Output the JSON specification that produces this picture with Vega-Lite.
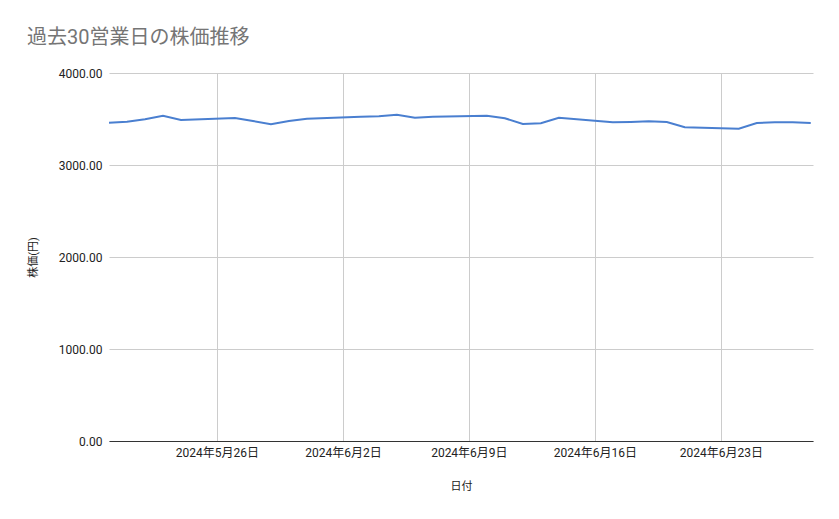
{
  "$schema": "https://vega.github.io/schema/vega-lite/v6.json",
  "width": 704,
  "height": 368,
  "autosize": {"type": "none"},
  "padding": {"left": 109, "top": 73, "right": 26, "bottom": 78},
  "background": "white",
  "title": {
    "text": "過去30営業日の株価推移",
    "anchor": "start",
    "frame": "group",
    "dx": -82,
    "offset": 19,
    "fontSize": 20,
    "fontWeight": "normal",
    "color": "#757575",
    "font": "Roboto, Noto Sans CJK JP"
  },
  "config": {
    "view": {"stroke": null},
    "font": "Roboto, Noto Sans CJK JP"
  },
  "data": {
    "values": [
      {"date": "2024-05-20", "price": 3460},
      {"date": "2024-05-21", "price": 3471},
      {"date": "2024-05-22", "price": 3497},
      {"date": "2024-05-23", "price": 3536},
      {"date": "2024-05-24", "price": 3489},
      {"date": "2024-05-27", "price": 3511},
      {"date": "2024-05-28", "price": 3478},
      {"date": "2024-05-29", "price": 3442},
      {"date": "2024-05-30", "price": 3478},
      {"date": "2024-05-31", "price": 3503},
      {"date": "2024-06-03", "price": 3525},
      {"date": "2024-06-04", "price": 3530},
      {"date": "2024-06-05", "price": 3547},
      {"date": "2024-06-06", "price": 3514},
      {"date": "2024-06-07", "price": 3525},
      {"date": "2024-06-10", "price": 3536},
      {"date": "2024-06-11", "price": 3508},
      {"date": "2024-06-12", "price": 3446},
      {"date": "2024-06-13", "price": 3453},
      {"date": "2024-06-14", "price": 3514},
      {"date": "2024-06-17", "price": 3464},
      {"date": "2024-06-18", "price": 3468},
      {"date": "2024-06-19", "price": 3475},
      {"date": "2024-06-20", "price": 3468},
      {"date": "2024-06-21", "price": 3410},
      {"date": "2024-06-24", "price": 3395},
      {"date": "2024-06-25", "price": 3457},
      {"date": "2024-06-26", "price": 3464},
      {"date": "2024-06-27", "price": 3464},
      {"date": "2024-06-28", "price": 3457}
    ]
  },
  "mark": {"type": "line", "color": "#4a7fd0", "strokeWidth": 2},
  "encoding": {
    "x": {
      "field": "date",
      "type": "temporal",
      "title": "日付",
      "scale": {
        "type": "utc",
        "domain": [
          {"year": 2024, "month": 5, "date": 20, "utc": true},
          {"year": 2024, "month": 6, "date": 28, "hours": 3, "utc": true}
        ]
      },
      "axis": {
        "values": [
          {"year": 2024, "month": 5, "date": 26, "utc": true},
          {"year": 2024, "month": 6, "date": 2, "utc": true},
          {"year": 2024, "month": 6, "date": 9, "utc": true},
          {"year": 2024, "month": 6, "date": 16, "utc": true},
          {"year": 2024, "month": 6, "date": 23, "utc": true}
        ],
        "labelExpr": "utcFormat(datum.value, '%Y年%-m月%-d日')",
        "labelFontSize": 12,
        "labelColor": "#222222",
        "labelPadding": 6,
        "ticks": false,
        "domainColor": "#333333",
        "domainWidth": 1,
        "gridColor": "#cccccc",
        "titleFontSize": 11,
        "titleFontWeight": "normal",
        "titleColor": "#222222",
        "titlePadding": 22
      }
    },
    "y": {
      "field": "price",
      "type": "quantitative",
      "title": "株価(円)",
      "scale": {"domain": [0, 4000]},
      "axis": {
        "values": [0, 1000, 2000, 3000, 4000],
        "format": ".2f",
        "labelFontSize": 12,
        "labelColor": "#222222",
        "labelPadding": 7,
        "ticks": false,
        "domain": false,
        "gridColor": "#cccccc",
        "titleFontSize": 11,
        "titleFontWeight": "normal",
        "titleColor": "#222222",
        "titlePadding": 20
      }
    }
  }
}
